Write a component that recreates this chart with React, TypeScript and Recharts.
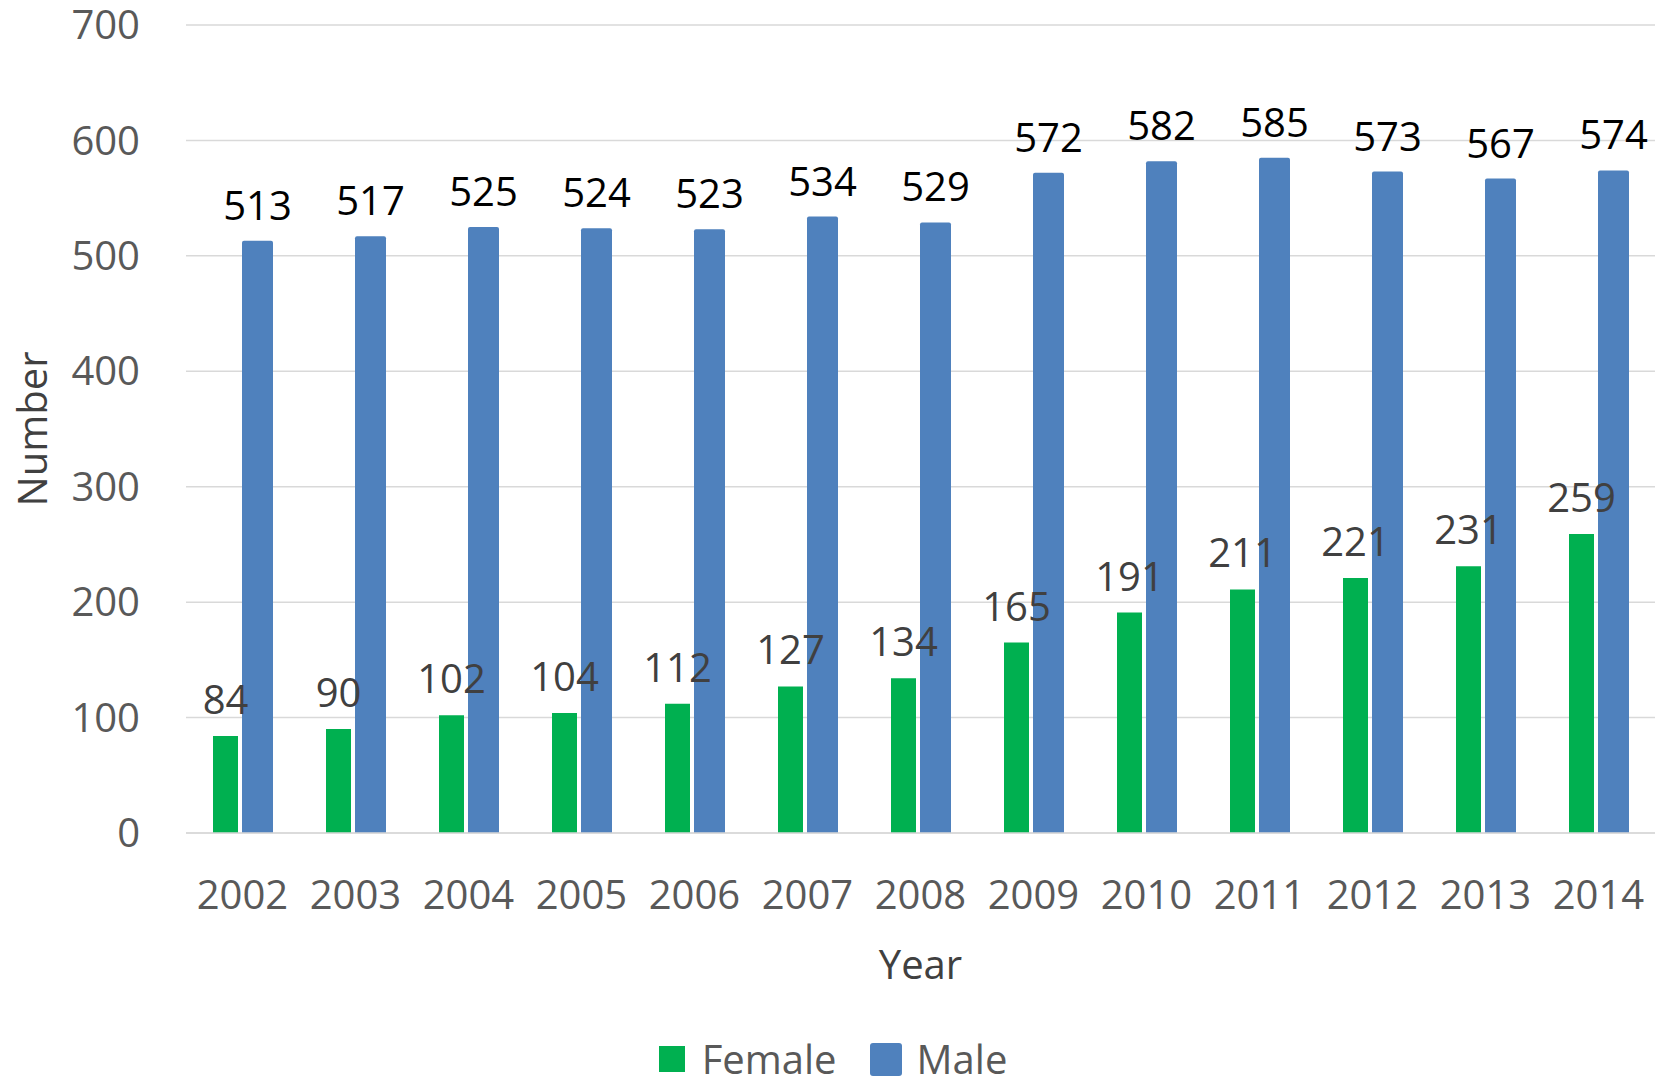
import { BarChart, Bar, XAxis, YAxis, CartesianGrid, Legend, LabelList, Label } from 'recharts';

const years = ['2002', '2003', '2004', '2005', '2006', '2007', '2008', '2009', '2010', '2011', '2012', '2013', '2014'];
const femaleCounts = [84, 90, 102, 104, 112, 127, 134, 165, 191, 211, 221, 231, 259];
const maleCounts = [513, 517, 525, 524, 523, 534, 529, 572, 582, 585, 573, 567, 574];
const yTicks = [0, 100, 200, 300, 400, 500, 600, 700];

const data = years.map((year, i) => ({ year, female: femaleCounts[i], male: maleCounts[i] }));

const FONT = '"Open Sans", "Noto Sans", sans-serif';
const FEMALE_COLOR = '#00B050';
const MALE_COLOR = '#4F81BD';

// value label sitting above a bar
const makeLabel = (color: string, gap: number) => (props: any) => {
  const { x, y, width, value } = props;
  return (
    <text x={x + width / 2} y={y - gap} textAnchor="middle" fill={color} fontSize={40} fontFamily={FONT}>
      {value}
    </text>
  );
};

const YTitle = ({ viewBox }: any) => {
  const cy = viewBox.y + viewBox.height / 2;
  return (
    <text x={47} y={cy} transform={`rotate(-90 47 ${cy})`} textAnchor="middle" fill="#404040" fontSize={40} fontFamily={FONT}>
      Number
    </text>
  );
};

const XTitle = ({ viewBox }: any) => {
  const cx = viewBox.x + viewBox.width / 2;
  return (
    <text x={cx} y={979} textAnchor="middle" fill="#404040" fontSize={40} fontFamily={FONT}>
      Year
    </text>
  );
};

const CustomLegend = () => (
  <div style={{ height: 80, display: 'flex', justifyContent: 'center', alignItems: 'flex-start', paddingTop: 36, boxSizing: 'border-box', fontFamily: FONT, fontSize: 40, lineHeight: '40px', color: '#595959' }}>
    <div style={{ display: 'flex', alignItems: 'center', height: 40 }}>
      <div style={{ width: 26, height: 26, background: FEMALE_COLOR, marginRight: 17 }} />
      <span>Female</span>
    </div>
    <div style={{ display: 'flex', alignItems: 'center', height: 40, marginLeft: 33 }}>
      <div style={{ width: 32, height: 33, background: MALE_COLOR, borderRadius: 3, marginRight: 15 }} />
      <span>Male</span>
    </div>
  </div>
);

export default function App() {
  return (
    <div style={{ position: 'absolute', left: 0, top: 0, width: 1666, height: 1083, background: '#fff' }}>
      <BarChart
        width={1666}
        height={1083}
        data={data}
        margin={{ top: 25, right: 11, left: 0, bottom: 0 }}
        barGap={4}
      >
        <CartesianGrid horizontal vertical={false} stroke="#D9D9D9" strokeWidth={1.5} />
        <XAxis
          dataKey="year"
          height={170}
          tickLine={false}
          axisLine={{ stroke: '#D9D9D9', strokeWidth: 1.5 }}
          tickSize={0}
          tickMargin={48}
          tick={{ fill: '#595959', fontSize: 40, fontFamily: FONT }}
          interval={0}
        >
          <Label content={<XTitle />} />
        </XAxis>
        <YAxis
          width={186}
          domain={[0, 700]}
          ticks={yTicks}
          tickLine={false}
          axisLine={false}
          tickSize={0}
          tickMargin={46}
          tick={{ fill: '#595959', fontSize: 40, fontFamily: FONT }}
        >
          <Label content={<YTitle />} />
        </YAxis>
        <Legend verticalAlign="bottom" height={80} content={<CustomLegend />} wrapperStyle={{ left: 0, width: 1666 }} />
        <Bar dataKey="female" name="Female" fill={FEMALE_COLOR} barSize={25} isAnimationActive={false}>
          <LabelList dataKey="female" content={makeLabel('#404040', 22)} />
        </Bar>
        <Bar dataKey="male" name="Male" fill={MALE_COLOR} barSize={31} radius={[2, 2, 0, 0]} isAnimationActive={false}>
          <LabelList dataKey="male" content={makeLabel('#000000', 21)} />
        </Bar>
      </BarChart>
    </div>
  );
}
